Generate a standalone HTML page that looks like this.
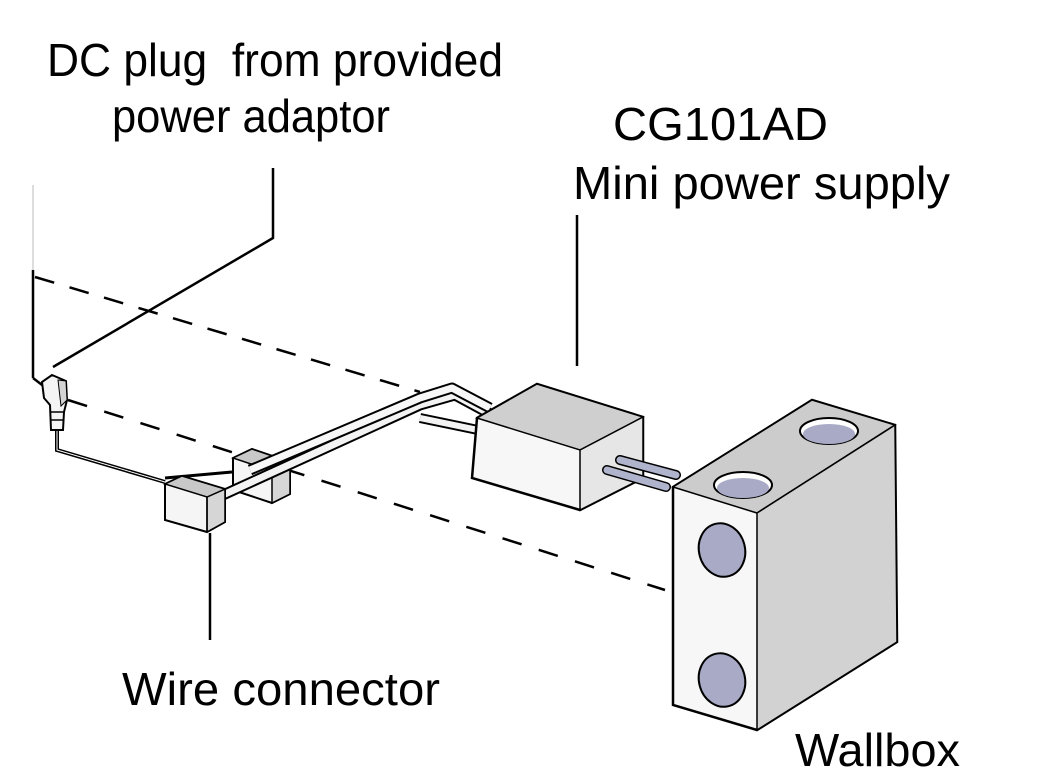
<!DOCTYPE html>
<html><head><meta charset="utf-8"><style>
html,body{margin:0;padding:0;background:#fff;width:1037px;height:784px;overflow:hidden}
svg{display:block}
text{font-family:"Liberation Sans",Arial,sans-serif;fill:#000}
</style></head><body>
<svg width="1037" height="784" viewBox="0 0 1037 784" xmlns="http://www.w3.org/2000/svg">
<!-- labels -->
<text x="47" y="76" font-size="46" textLength="456" lengthAdjust="spacingAndGlyphs">DC plug&#160;&#160;from provided</text>
<text x="112" y="132" font-size="46" textLength="278" lengthAdjust="spacingAndGlyphs">power adaptor</text>
<text x="613" y="140" font-size="46" textLength="215" lengthAdjust="spacingAndGlyphs">CG101AD</text>
<text x="573" y="199" font-size="46" textLength="377" lengthAdjust="spacingAndGlyphs">Mini power supply</text>
<text x="122" y="705" font-size="46" textLength="318" lengthAdjust="spacingAndGlyphs">Wire connector</text>
<text x="795" y="766" font-size="46" textLength="165" lengthAdjust="spacingAndGlyphs">Wallbox</text>

<!-- left wall line -->
<line x1="33" y1="185" x2="33" y2="270" stroke="#ddd" stroke-width="2"/>
<line x1="33" y1="270" x2="33" y2="378" stroke="#000" stroke-width="2.5"/>
<line x1="33" y1="378" x2="46" y2="388" stroke="#000" stroke-width="2.5"/>

<!-- dashed lines -->
<line x1="35" y1="277" x2="420" y2="392" stroke="#000" stroke-width="2.5" stroke-dasharray="20,16"/>
<line x1="68" y1="400" x2="665" y2="590" stroke="#000" stroke-width="2.5" stroke-dasharray="20,18"/>

<!-- leaders -->
<polyline points="273,168 273,238 53,367" fill="none" stroke="#000" stroke-width="2.5"/>
<line x1="577" y1="215" x2="577" y2="366" stroke="#000" stroke-width="2.5"/>
<line x1="210" y1="533" x2="210" y2="640" stroke="#000" stroke-width="2.5"/>

<!-- cable from plug -->
<polyline points="57,428 57,450 165,482" fill="none" stroke="#000" stroke-width="4"/>
<polyline points="57,428 57,450 165,482" fill="none" stroke="#fff" stroke-width="1"/>
<line x1="165" y1="478" x2="232" y2="472" stroke="#000" stroke-width="3"/>

<!-- plug -->
<path d="M42,382 L52,375 L66,381 L67,400 L64,412 L63,430 L51,430 L50,405 L44,398 Z" fill="#f4f4f4" stroke="#000" stroke-width="2"/>
<path d="M58,380 L66,381 L67,400 L61,406 Z" fill="#d4d4d4" stroke="#000" stroke-width="1"/>
<line x1="50" y1="412" x2="64" y2="412" stroke="#000" stroke-width="1.5"/>
<line x1="51" y1="420" x2="63" y2="420" stroke="#000" stroke-width="1.5"/>

<!-- back connector box -->
<path d="M233,458 L252,449 L290,462 L290,494 L272,503 L233,490 Z" fill="#f5f5f5" stroke="#000" stroke-width="2"/>
<path d="M272,471 L290,462 L290,494 L272,503 Z" fill="#d6d6d6" stroke="#000" stroke-width="1.5"/>
<path d="M233,458 L252,449 L290,462 L272,471 Z" fill="#c8c8c8" stroke="#000" stroke-width="1.5"/>

<!-- tubes -->
<polyline points="212,500 420,405 455,395 492,415" fill="none" stroke="#000" stroke-width="11" stroke-linejoin="round"/>
<polyline points="212,500 420,405 455,395 492,415" fill="none" stroke="#f3f3f3" stroke-width="7" stroke-linejoin="round"/>
<polyline points="250,470 420,398 452,388 490,408" fill="none" stroke="#000" stroke-width="11" stroke-linejoin="round"/>
<polyline points="250,470 420,398 452,388 490,408" fill="none" stroke="#f7f7f7" stroke-width="7" stroke-linejoin="round"/>
<polyline points="420,418 478,430" fill="none" stroke="#000" stroke-width="10"/>
<polyline points="420,418 478,430" fill="none" stroke="#f3f3f3" stroke-width="6"/>

<!-- front connector box -->
<path d="M165,484 L182,476 L225,489 L225,522 L207,532 L165,520 Z" fill="#f5f5f5" stroke="#000" stroke-width="2"/>
<path d="M207,497 L225,489 L225,522 L207,532 Z" fill="#d6d6d6" stroke="#000" stroke-width="1.5"/>
<path d="M165,484 L182,476 L225,489 L207,497 Z" fill="#c8c8c8" stroke="#000" stroke-width="1.5"/>
<line x1="207" y1="497" x2="207" y2="532" stroke="#000" stroke-width="1.5"/>

<!-- mini power supply -->
<path d="M477,418 L537,384 L643,417 L643,478 L580,510 L472,478 Z" fill="#f7f7f7" stroke="#000" stroke-width="2.5"/>
<path d="M477,418 L537,384 L643,417 L580,450 Z" fill="#cfcfcf" stroke="#000" stroke-width="1.5"/>
<path d="M580,450 L643,417 L643,478 L580,510 Z" fill="#e6e6e6" stroke="#000" stroke-width="1.5"/>

<!-- pins -->
<line x1="620" y1="460" x2="676" y2="475" stroke="#000" stroke-width="10" stroke-linecap="round"/>
<line x1="620" y1="460" x2="676" y2="475" stroke="#b0b3cc" stroke-width="7" stroke-linecap="round"/>
<line x1="607" y1="470" x2="666" y2="487" stroke="#000" stroke-width="10" stroke-linecap="round"/>
<line x1="607" y1="470" x2="666" y2="487" stroke="#b0b3cc" stroke-width="7" stroke-linecap="round"/>

<!-- wallbox -->
<path d="M673,487 L812,400 L895,425 L897,642 L757,730 L673,705 Z" fill="#f7f7f7" stroke="#000" stroke-width="2.5"/>
<path d="M673,487 L812,400 L895,425 L757,513 Z" fill="#cccccc" stroke="#000" stroke-width="1.5"/>
<path d="M757,513 L895,425 L897,642 L757,730 Z" fill="#d2d2d2" stroke="#000" stroke-width="1.5"/>
<ellipse cx="743" cy="485" rx="29" ry="13" fill="#fff" stroke="#000" stroke-width="2"/>
<ellipse cx="743" cy="488" rx="26" ry="10" fill="#a9abc6"/>
<ellipse cx="829" cy="431" rx="29" ry="13" fill="#fff" stroke="#000" stroke-width="2"/>
<ellipse cx="829" cy="434" rx="26" ry="10" fill="#a9abc6"/>
<ellipse cx="722" cy="550" rx="23" ry="27" transform="rotate(-15 722 550)" fill="#a9abc6" stroke="#000" stroke-width="2"/>
<ellipse cx="722" cy="680" rx="23" ry="27" transform="rotate(-15 722 680)" fill="#a9abc6" stroke="#000" stroke-width="2"/>
</svg>
</body></html>
